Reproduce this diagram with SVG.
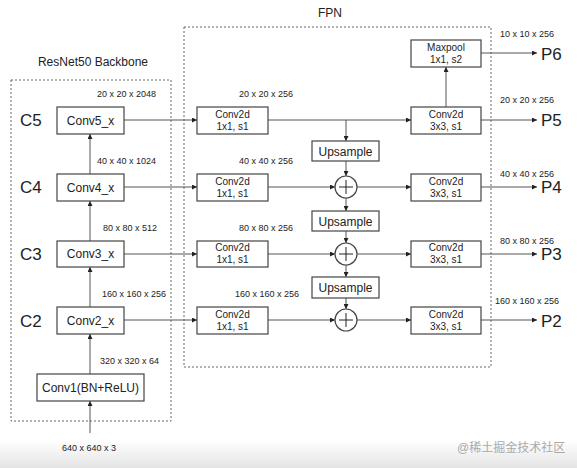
<svg xmlns="http://www.w3.org/2000/svg" width="577" height="468" viewBox="0 0 577 468">
<defs>
<marker id="ah" viewBox="0 0 10 10" refX="10" refY="5" markerWidth="5" markerHeight="5" orient="auto" markerUnits="userSpaceOnUse"><path d="M0,0 L10,5 L0,10 z" fill="#222"/></marker>
<linearGradient id="bg" x1="0" y1="0" x2="0" y2="1"><stop offset="0" stop-color="#ffffff"/><stop offset="1" stop-color="#e4e4e4"/></linearGradient>
<style>
.box{fill:#fff;stroke:#444;stroke-width:1.2}
.grp{fill:none;stroke:#666;stroke-width:1;stroke-dasharray:2,2}
.ln{fill:none;stroke:#555;stroke-width:1;marker-end:url(#ah)}
.pl{fill:none;stroke:#555;stroke-width:1}
text{font-family:"Liberation Sans",Arial,sans-serif;fill:#222}
.t{font-size:12px;text-anchor:middle}
.s{font-size:10px;text-anchor:middle}
.d{font-size:9px}
.big{font-size:17px}
.title{font-size:12px;text-anchor:middle}
</style>
</defs>
<rect width="577" height="468" fill="#fff"/>
<rect x="0" y="440" width="577" height="28" fill="url(#bg)"/>

<g id="backbone-group">
<rect class="grp" x="11" y="80" width="160" height="341"/>
<text class="title" x="93" y="66">ResNet50 Backbone</text>
</g>
<g id="fpn-group">
<rect class="grp" x="184" y="27" width="307" height="340"/>
<text class="title" x="330" y="17">FPN</text>
</g>

<g id="labels">
<text class="big" x="20" y="126">C5</text>
<text class="big" x="20" y="193">C4</text>
<text class="big" x="20" y="260">C3</text>
<text class="big" x="20" y="327">C2</text>
<text class="d" x="97" y="97">20 x 20 x 2048</text>
<text class="d" x="97" y="164">40 x 40 x 1024</text>
<text class="d" x="103" y="231">80 x 80 x 512</text>
<text class="d" x="102" y="297">160 x 160 x 256</text>
<text class="d" x="100" y="364">320 x 320 x 64</text>
<text class="d" x="62" y="451">640 x 640 x 3</text>
<text class="d" x="239" y="97">20 x 20 x 256</text>
<text class="d" x="239" y="164">40 x 40 x 256</text>
<text class="d" x="239" y="231">80 x 80 x 256</text>
<text class="d" x="235" y="297">160 x 160 x 256</text>
<text class="d" x="500" y="37">10 x 10 x 256</text>
<text class="d" x="500" y="103">20 x 20 x 256</text>
<text class="d" x="500" y="177">40 x 40 x 256</text>
<text class="d" x="500" y="244">80 x 80 x 256</text>
<text class="d" x="495" y="304">160 x 160 x 256</text>
<text class="big" x="541" y="60">P6</text>
<text class="big" x="541" y="126">P5</text>
<text class="big" x="541" y="193">P4</text>
<text class="big" x="541" y="260">P3</text>
<text class="big" x="541" y="327">P2</text>
<text x="457" y="452" style="font-size:12px;fill:#aaa;font-family:'Liberation Sans','Noto Sans CJK SC',sans-serif">@稀土掘金技术社区</text>
</g>

<g id="connectors">
<line class="ln" x1="90" y1="433" x2="90" y2="401"/>
<line class="ln" x1="90" y1="374" x2="90" y2="334"/>
<line class="ln" x1="90" y1="307" x2="90" y2="267"/>
<line class="ln" x1="90" y1="241" x2="90" y2="201"/>
<line class="ln" x1="90" y1="174" x2="90" y2="134"/>
<line class="ln" x1="124" y1="120" x2="197" y2="120"/>
<line class="ln" x1="124" y1="187" x2="197" y2="187"/>
<line class="ln" x1="124" y1="254" x2="197" y2="254"/>
<line class="ln" x1="124" y1="320" x2="197" y2="320"/>
<line class="ln" x1="268" y1="120" x2="411" y2="120"/>
<line class="ln" x1="268" y1="187" x2="335" y2="187"/>
<line class="ln" x1="268" y1="254" x2="335" y2="254"/>
<line class="ln" x1="268" y1="320" x2="335" y2="320"/>
<line class="ln" x1="357" y1="187" x2="411" y2="187"/>
<line class="ln" x1="357" y1="254" x2="411" y2="254"/>
<line class="ln" x1="357" y1="320" x2="411" y2="320"/>
<line class="ln" x1="346" y1="120" x2="346" y2="141"/>
<line class="ln" x1="346" y1="161" x2="346" y2="176"/>
<line class="ln" x1="346" y1="198" x2="346" y2="211"/>
<line class="ln" x1="346" y1="231" x2="346" y2="243"/>
<line class="ln" x1="346" y1="265" x2="346" y2="277"/>
<line class="ln" x1="346" y1="298" x2="346" y2="309"/>
<line class="ln" x1="446" y1="107" x2="446" y2="67"/>
<line class="ln" x1="481" y1="53" x2="537" y2="53"/>
<line class="ln" x1="481" y1="120" x2="537" y2="120"/>
<line class="ln" x1="481" y1="187" x2="537" y2="187"/>
<line class="ln" x1="481" y1="254" x2="537" y2="254"/>
<line class="ln" x1="481" y1="320" x2="537" y2="320"/>
</g>

<g id="conv1"><rect class="box" x="37" y="374" width="107" height="27"/><text class="t" x="90.5" y="392">Conv1(BN+ReLU)</text></g>
<g id="conv2x"><rect class="box" x="57" y="307" width="67" height="27"/><text class="t" x="90.5" y="325">Conv2_x</text></g>
<g id="conv3x"><rect class="box" x="57" y="241" width="67" height="26"/><text class="t" x="90.5" y="258">Conv3_x</text></g>
<g id="conv4x"><rect class="box" x="57" y="174" width="67" height="27"/><text class="t" x="90.5" y="192">Conv4_x</text></g>
<g id="conv5x"><rect class="box" x="57" y="107" width="67" height="27"/><text class="t" x="90.5" y="125">Conv5_x</text></g>

<g id="lat5"><rect class="box" x="197" y="107" width="71" height="27"/><text class="s" x="232.5" y="118">Conv2d</text><text class="s" x="232.5" y="130">1x1, s1</text></g>
<g id="lat4"><rect class="box" x="197" y="174" width="71" height="27"/><text class="s" x="232.5" y="185">Conv2d</text><text class="s" x="232.5" y="197">1x1, s1</text></g>
<g id="lat3"><rect class="box" x="197" y="241" width="71" height="26"/><text class="s" x="232.5" y="251">Conv2d</text><text class="s" x="232.5" y="263">1x1, s1</text></g>
<g id="lat2"><rect class="box" x="197" y="307" width="71" height="27"/><text class="s" x="232.5" y="318">Conv2d</text><text class="s" x="232.5" y="330">1x1, s1</text></g>

<g id="up1"><rect class="box" x="312" y="141" width="67" height="20"/><text class="t" x="345.5" y="155.5">Upsample</text></g>
<g id="up2"><rect class="box" x="312" y="211" width="67" height="20"/><text class="t" x="345.5" y="225.5">Upsample</text></g>
<g id="up3"><rect class="box" x="312" y="277" width="67" height="21"/><text class="t" x="345.5" y="292">Upsample</text></g>

<g id="add4"><circle class="box" cx="346" cy="187" r="11"/><path class="pl" d="M339,187 H353 M346,180 V194" style="stroke:#222"/></g>
<g id="add3"><circle class="box" cx="346" cy="254" r="11"/><path class="pl" d="M339,254 H353 M346,247 V261" style="stroke:#222"/></g>
<g id="add2"><circle class="box" cx="346" cy="320" r="11"/><path class="pl" d="M339,320 H353 M346,313 V327" style="stroke:#222"/></g>

<g id="maxpool"><rect class="box" x="411" y="40" width="70" height="27"/><text class="s" x="446" y="51">Maxpool</text><text class="s" x="446" y="63">1x1, s2</text></g>
<g id="out5"><rect class="box" x="411" y="107" width="70" height="27"/><text class="s" x="446" y="118">Conv2d</text><text class="s" x="446" y="130">3x3, s1</text></g>
<g id="out4"><rect class="box" x="411" y="174" width="70" height="27"/><text class="s" x="446" y="185">Conv2d</text><text class="s" x="446" y="197">3x3, s1</text></g>
<g id="out3"><rect class="box" x="411" y="241" width="70" height="26"/><text class="s" x="446" y="251">Conv2d</text><text class="s" x="446" y="263">3x3, s1</text></g>
<g id="out2"><rect class="box" x="411" y="307" width="70" height="27"/><text class="s" x="446" y="318">Conv2d</text><text class="s" x="446" y="330">3x3, s1</text></g>
</svg>
